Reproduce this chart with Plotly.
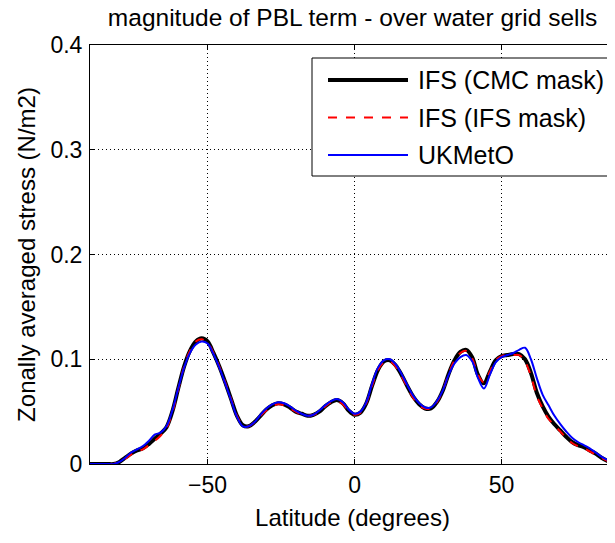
###############################################################################
### Zonally averaged PBL stress magnitude - over water grid cells           ###
###############################################################################

import plotly.graph_objects as go

# latitude grid (degrees)
lat = list(range(-90, 91, 2))

# IFS (CMC mask)
ifs_cmc = [0, 0, 0, 0, 0, 0.002, 0.006, 0.010, 0.013, 0.015,
           0.019, 0.024, 0.029, 0.035, 0.050, 0.072, 0.093, 0.108, 0.117, 0.120,
           0.117, 0.106, 0.093, 0.078, 0.062, 0.046, 0.037, 0.036, 0.040, 0.046,
           0.052, 0.056, 0.058, 0.057, 0.054, 0.050, 0.048, 0.046, 0.047, 0.050,
           0.055, 0.059, 0.061, 0.058, 0.051, 0.047, 0.049, 0.058, 0.075, 0.090,
           0.098, 0.099, 0.094, 0.085, 0.074, 0.064, 0.057, 0.053, 0.053, 0.059,
           0.070, 0.086, 0.099, 0.107, 0.109, 0.102, 0.085, 0.077, 0.088, 0.099,
           0.103, 0.104, 0.105, 0.105, 0.100, 0.087, 0.068, 0.055, 0.045, 0.038,
           0.032, 0.026, 0.021, 0.018, 0.016, 0.013, 0.010, 0.006, 0.003, 0.001,
           0]

# IFS (IFS mask)
ifs_ifs = [0, 0, 0, 0, 0, 0.002, 0.005, 0.009, 0.012, 0.014,
           0.018, 0.022, 0.027, 0.034, 0.049, 0.071, 0.093, 0.108, 0.117, 0.119,
           0.116, 0.106, 0.093, 0.078, 0.062, 0.046, 0.037, 0.036, 0.040, 0.046,
           0.051, 0.055, 0.057, 0.056, 0.053, 0.050, 0.047, 0.046, 0.047, 0.050,
           0.055, 0.059, 0.060, 0.057, 0.051, 0.047, 0.049, 0.058, 0.075, 0.090,
           0.097, 0.098, 0.093, 0.084, 0.073, 0.063, 0.056, 0.053, 0.053, 0.059,
           0.070, 0.086, 0.099, 0.106, 0.108, 0.101, 0.085, 0.078, 0.088, 0.099,
           0.103, 0.104, 0.104, 0.104, 0.098, 0.084, 0.065, 0.053, 0.043, 0.037,
           0.031, 0.025, 0.020, 0.017, 0.015, 0.012, 0.009, 0.006, 0.003, 0.001,
           0]

# UKMetO
ukmeto = [0, 0, 0, 0, 0, 0.002, 0.006, 0.011, 0.014, 0.017,
          0.022, 0.028, 0.030, 0.036, 0.051, 0.072, 0.092, 0.106, 0.114, 0.117,
          0.115, 0.105, 0.092, 0.077, 0.061, 0.045, 0.036, 0.036, 0.040, 0.047,
          0.053, 0.057, 0.059, 0.058, 0.055, 0.051, 0.048, 0.046, 0.047, 0.051,
          0.056, 0.060, 0.062, 0.059, 0.052, 0.048, 0.050, 0.059, 0.077, 0.092,
          0.099, 0.100, 0.095, 0.086, 0.075, 0.065, 0.058, 0.054, 0.054, 0.060,
          0.070, 0.085, 0.096, 0.102, 0.104, 0.098, 0.082, 0.072, 0.085, 0.097,
          0.102, 0.104, 0.106, 0.109, 0.111, 0.100, 0.082, 0.066, 0.056, 0.046,
          0.038, 0.031, 0.025, 0.021, 0.018, 0.015, 0.011, 0.007, 0.004, 0.001,
          0]

names = ['IFS (CMC mask)', 'IFS (IFS mask)', 'UKMetO']
series = [ifs_cmc, ifs_ifs, ukmeto]
colors = ['black', 'red', 'blue']
widths = [4, 2, 2]
dashes = ['solid', 'dash', 'solid']

font = 'Liberation Sans'

# the page body has an 8px margin, so work in page pixels and shift back
OFF = 8
W, H = 615 - OFF, 543 - OFF
L, T, B = 90 - OFF, 45 - OFF, 464 - OFF

fig = go.Figure()
for name, vals, c, w, d in zip(names, series, colors, widths, dashes):
    fig.add_trace(go.Scatter(x=lat, y=vals, name=name, mode='lines',
                             line=dict(color=c, width=w, dash=d, shape='spline')))

# invisible copy on the top axis so matlab's top border + ticks get drawn
fig.add_trace(go.Scatter(x=lat, y=ifs_cmc, xaxis='x2', mode='lines', opacity=0,
                         hoverinfo='skip', showlegend=False))

fig.update_layout(
    width=W, height=H,
    margin=dict(l=L, r=0, t=T, b=H - B),
    paper_bgcolor='white', plot_bgcolor='white',
    font=dict(family=font, size=23, color='black'),
    title=dict(text='magnitude of PBL term - over water grid sells', x=0.5, xref='paper',
               y=1 - (17 - OFF) / H, yref='container', yanchor='middle', font=dict(size=24.5)),
    showlegend=False,
    xaxis=dict(range=[-90, 88.6], tickvals=[-50, 0, 50], ticks='inside', ticklen=5,
               tickcolor='black', showline=True, linecolor='black', linewidth=1,
               showgrid=True, gridcolor='black', gridwidth=1, griddash='1px,3px',
               zeroline=False, automargin=False,
               title=dict(text='Latitude (degrees)', standoff=12, font=dict(size=24))),
    xaxis2=dict(overlaying='x', side='top', range=[-90, 88.6], tickvals=[-50, 0, 50],
                ticks='inside', ticklen=5, tickcolor='black', showticklabels=False,
                showline=True, linecolor='black', linewidth=1, showgrid=False,
                zeroline=False, automargin=False),
    yaxis=dict(range=[0, 0.4], tickvals=[0, 0.1, 0.2, 0.3, 0.4], ticks='inside', ticklen=5,
               tickcolor='black', showline=True, linecolor='black', linewidth=1,
               showgrid=True, gridcolor='black', gridwidth=1, griddash='1px,3px',
               zeroline=False, ticklabelstandoff=2, automargin=False,
               title=dict(text='Zonally averaged stress (N/m2)', standoff=8, font=dict(size=24))),
)


# legend drawn by hand so the row spacing matches matlab (page pixels in)
def px(x):
    return (x - OFF - L) / (W - L)


def py(y):
    return (B - (y - OFF)) / (B - T)


fig.add_shape(type='rect', xref='paper', yref='paper', x0=px(312), x1=px(612),
              y0=py(58), y1=py(176), line=dict(color='black', width=1), fillcolor='white')
for i, (name, c, w, d) in enumerate(zip(names, colors, widths, dashes)):
    yy = 80 + i * 37.5
    fig.add_shape(type='line', xref='paper', yref='paper', x0=px(328), x1=px(408),
                  y0=py(yy), y1=py(yy), line=dict(color=c, width=w, dash=d))
    fig.add_annotation(text=name, xref='paper', yref='paper', x=px(416), y=py(yy),
                       xanchor='left', yanchor='middle', showarrow=False,
                       font=dict(size=25))

fig.write_html('out.html')
